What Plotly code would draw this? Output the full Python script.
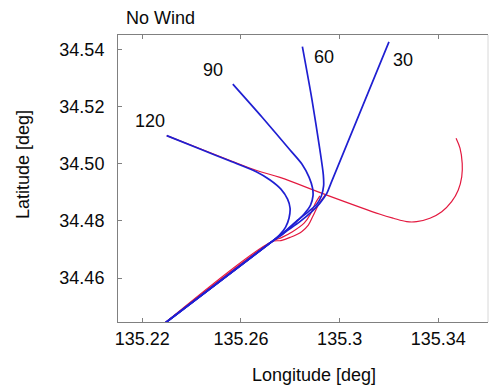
import plotly.graph_objects as go

# ---------------- data (lon / lat in degrees) ----------------
# common approach leg + turn trajectories (blue)
t120_lon = [135.2299, 135.2434, 135.2556, 135.2664, 135.2718, 135.2762, 135.2789, 135.2799,
            135.2795, 135.2781, 135.2756, 135.2725, 135.2272]
t120_lat = [34.5098, 34.5051, 34.5009, 34.4971, 34.4943, 34.4911, 34.4876, 34.4845,
            34.4810, 34.4778, 34.4750, 34.4727, 34.4429]

t90_lon = [135.2567, 135.2685, 135.2799, 135.2847, 135.2876, 135.2890, 135.2892, 135.2882,
           135.2856, 135.2815, 135.2770, 135.2725, 135.2272]
t90_lat = [34.5278, 34.5163, 34.5048, 34.4999, 34.4953, 34.4915, 34.4887, 34.4855,
           34.4824, 34.4789, 34.4754, 34.4727, 34.4429]

t60_lon = [135.2849, 135.2888, 135.2920, 135.2934, 135.2935, 135.2926, 135.2908, 135.2876,
           135.2831, 135.2779, 135.2725, 135.2272]
t60_lat = [34.5409, 34.5223, 34.5048, 34.4960, 34.4922, 34.4887, 34.4859, 34.4834,
           34.4803, 34.4764, 34.4727, 34.4429]

t30_lon = [135.2272, 135.2725, 135.2779, 135.2839, 135.2887, 135.2920, 135.2948, 135.2965, 135.3200]
t30_lat = [34.4429, 34.4727, 34.4761, 34.4797, 34.4832, 34.4862, 34.4896, 34.4932, 34.5426]

# red trajectories
r_main_lon = [135.2299, 135.2556, 135.2664, 135.2758, 135.2948, 135.3164, 135.3218, 135.3272,
              135.3312, 135.3366, 135.3414, 135.3454, 135.3481, 135.3495, 135.3497, 135.3488, 135.3472]
r_main_lat = [34.5098, 34.5011, 34.4976, 34.4952, 34.4890, 34.4823, 34.4809, 34.4797,
              34.4797, 34.4809, 34.4832, 34.4867, 34.4908, 34.4954, 34.5001, 34.5054, 34.5089]

r2_lon = [135.2272, 135.2725, 135.2762, 135.2799, 135.2846, 135.2873, 135.2892, 135.2916, 135.2941]
r2_lat = [34.4429, 34.4727, 34.4731, 34.4742, 34.4762, 34.4785, 34.4817, 34.4859, 34.4890]

r3_lon = [135.2272, 135.2725, 135.2766, 135.2807, 135.2856, 135.2882, 135.2900, 135.2920]
r3_lat = [34.4429, 34.4727, 34.4742, 34.4761, 34.4792, 34.4824, 34.4859, 34.4887]

label_text = ["30", "60", "90", "120"]
label_lon = [135.3255, 135.2937, 135.2485, 135.2233]
label_lat = [34.5363, 34.5373, 34.5328, 34.5149]

x_ticks = [135.22, 135.26, 135.30, 135.34]
x_tick_text = ["135.22", "135.26", "135.3", "135.34"]
y_ticks = [34.46, 34.48, 34.50, 34.52, 34.54]
y_tick_text = ["34.46", "34.48", "34.50", "34.52", "34.54"]

# ---------------- figure ----------------
BLUE = "#1f1fd2"
RED = "#e3193f"
TXT = "#0a0a0a"
FONT = "Liberation Sans, Arial, sans-serif"

fig = go.Figure()
for lx, ly in [(r_main_lon, r_main_lat), (r2_lon, r2_lat), (r3_lon, r3_lat)]:
    fig.add_trace(go.Scatter(x=lx, y=ly, mode="lines", line=dict(color=RED, width=1.2, shape="spline", smoothing=1.0),
                             hoverinfo="skip", showlegend=False))
for lx, ly in [(t120_lon, t120_lat), (t90_lon, t90_lat), (t60_lon, t60_lat), (t30_lon, t30_lat)]:
    fig.add_trace(go.Scatter(x=lx, y=ly, mode="lines", line=dict(color=BLUE, width=1.7, shape="spline", smoothing=0.7),
                             hoverinfo="skip", showlegend=False))

for t, lx, ly in zip(label_text, label_lon, label_lat):
    fig.add_annotation(x=lx, y=ly, text=t, showarrow=False, xanchor="center", yanchor="middle",
                       font=dict(family=FONT, size=18, color=TXT))

fig.add_annotation(xref="paper", yref="paper", x=0.5284, y=-0.1847, text="Longitude [deg]",
                   showarrow=False, xanchor="center", yanchor="middle",
                   font=dict(family=FONT, size=18, color=TXT))
fig.add_annotation(xref="paper", yref="paper", x=-0.2568, y=0.5505, text="Latitude [deg]",
                   showarrow=False, xanchor="center", yanchor="middle", textangle=-90,
                   font=dict(family=FONT, size=18, color=TXT))

# faint right border
fig.add_shape(type="line", xref="paper", yref="paper", x0=1, x1=1, y0=0, y1=1,
              line=dict(color="#d8d8d8", width=1))

fig.update_layout(
    width=494, height=388,
    margin=dict(l=118, r=6, t=35, b=66),
    paper_bgcolor="white", plot_bgcolor="white",
    title=dict(text="No Wind", x=126 / 494, xanchor="left", y=1 - 18 / 388, yanchor="middle",
               font=dict(family=FONT, size=18, color=TXT)),
    xaxis=dict(range=[135.21015, 135.36015], tickvals=x_ticks, ticktext=x_tick_text,
               showgrid=False, zeroline=False, showline=True, linecolor="#808080", linewidth=1,
               mirror="ticks", ticks="inside", ticklen=4, tickcolor="#808080",
               tickfont=dict(family=FONT, size=18, color=TXT)),
    yaxis=dict(range=[34.44461, 34.545], tickvals=y_ticks, ticktext=y_tick_text,
               showgrid=False, zeroline=False, showline=True, linecolor="#808080", linewidth=1,
               ticks="inside", ticklen=4, tickcolor="#808080", ticklabelstandoff=9,
               tickfont=dict(family=FONT, size=18, color=TXT)),
)

fig.write_html("out.html")
